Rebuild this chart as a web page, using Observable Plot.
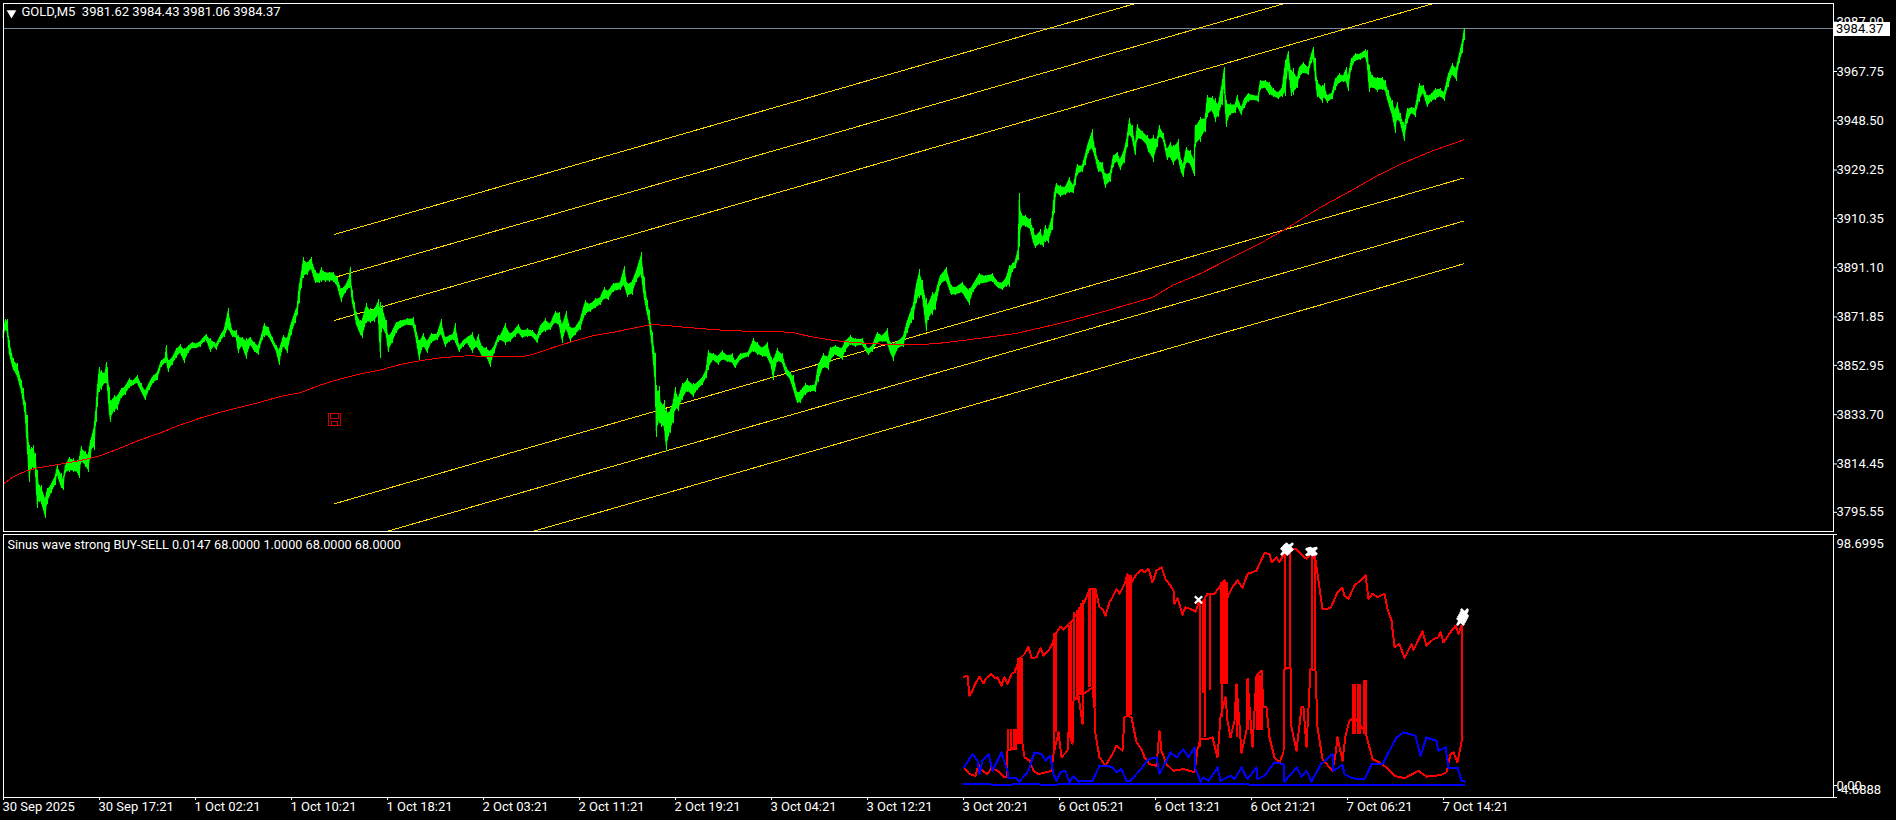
<!DOCTYPE html>
<html><head><meta charset="utf-8">
<script src="https://cdn.jsdelivr.net/npm/d3@7"></script>
<script src="https://cdn.jsdelivr.net/npm/@observablehq/plot@0.6"></script>
<style>html,body{margin:0;padding:0;background:#000;overflow:hidden}svg{display:block}</style>
</head><body><div id="chart"></div>
<script>
// price samples: [bar, high, low]
const priceSep30 = [[0,3866.6,3863.3],[2,3870.7,3866.6],[4,3870.9,3865.3],[6,3862.7,3856.8],[10,3855.5,3850.9],[14,3853.5,3848.1],[18,3847,3842.5],[20,3843.8,3837.9],[22,3838.6,3832.7],[24,3833.4,3819.7],[26,3821.6,3807.3],[28,3821,3811.9],[30,3821.6,3811.9],[32,3818.4,3811.9],[34,3811.9,3796.9],[36,3806,3799.5],[38,3806,3798.8],[42,3801.5,3793],[44,3804.7,3798.8],[48,3806.7,3802.8],[52,3809.9,3806],[54,3813.8,3809.9],[58,3810.6,3804.7],[60,3808.6,3804.1],[62,3813.8,3810.6],[66,3817.1,3811.2],[70,3816.4,3811.2],[74,3815.8,3810.6],[76,3817.1,3808.6],[78,3821.3,3815.1],[82,3819.4,3813.2],[85,3818.4,3811.2],[87,3823.6,3816.4],[89,3826.2,3820.3],[91,3830.1,3819.7],[93,3837.9,3830.8],[94,3844.4,3836.6],[96,3852.3,3842.5],[98,3851,3843.1],[102,3850.3,3845.7],[103,3854.2,3845.7],[104,3852.3,3844.4],[106,3844.4,3834],[107,3839.2,3830.8],[111,3841.2,3834.7],[114,3841.2,3835.3],[118,3843.8,3839.9],[122,3845,3841.2],[126,3847.7,3843.8],[130,3847,3845],[134,3849,3845.7],[138,3845.7,3842.5],[142,3843.1,3839.2],[146,3846.4,3843.1],[150,3849,3845.7],[154,3850.3,3847],[158,3854.8,3852.3],[162,3856.2,3853.5],[163,3860.6,3854.2],[165,3854.8,3850.3],[169,3856.2,3852.9],[173,3859.4,3855.5],[177,3861,3857.5],[181,3859.4,3853.8],[185,3860.7,3857.5],[189,3862,3859.4],[193,3861.4,3859.4],[197,3862.4,3860.1],[201,3864.2,3862],[203,3865,3862.7],[207,3863.3,3858.1],[211,3862,3860.1],[213,3861.4,3858.8],[217,3864.6,3862],[221,3867.2,3864],[225,3875,3866.6],[229,3866.6,3864],[233,3866.6,3863.3],[235,3864.6,3857.5],[239,3864,3860.1],[243,3863.3,3855.1],[247,3864,3860.7],[251,3862,3858.1],[255,3860.7,3856.8],[259,3865.9,3862.7],[261,3869.4,3864],[265,3867.9,3864],[269,3864,3861.4],[273,3860.7,3858.1],[276,3859.4,3852.9],[280,3864.6,3860.1],[284,3864,3857.5]];
const priceOct1 = [[288,3869.8,3864.6],[292,3874.4,3869.2],[294,3876.3,3872.4],[296,3884.8,3877],[298,3888.7,3882.8],[300,3895,3886.8],[304,3893.3,3888.1],[308,3895,3890],[312,3890,3884.8],[316,3888.7,3884.8],[318,3891,3885.5],[322,3889.4,3885.5],[326,3889.4,3885.5],[330,3889.4,3885.5],[334,3887.4,3883.5],[338,3882.8,3877.6],[342,3884.2,3880.9],[346,3887.4,3882.8],[347,3891,3884.8],[349,3882.2,3877],[351,3877.6,3873.7],[353,3873.7,3868.5],[357,3870.5,3864.6],[359,3871.1,3863.3],[363,3877,3869.2],[367,3875,3869.2],[371,3875,3869.8],[375,3878.5,3871.8],[377,3877.6,3855.5],[379,3876.3,3867.2],[383,3870.5,3864],[385,3864.6,3858.1],[389,3866.6,3861.4],[393,3869.8,3865.3],[397,3870.5,3867.2],[404,3871.1,3868.5],[410,3871.5,3867.9],[412,3868.5,3864.6],[416,3862.7,3854.8],[420,3865.3,3860.1],[424,3862.7,3857.5],[428,3865.3,3861.4],[434,3865.3,3862.7],[438,3870.7,3864.6],[442,3864,3860.1],[446,3864.6,3862],[450,3865.3,3862.7],[452,3869.2,3861.4],[456,3860.7,3858.1],[460,3862.7,3860.1],[464,3864,3861.4],[469,3865.9,3857.5],[473,3862,3860.1],[475,3865,3858.8],[479,3860.3,3855.9],[483,3860,3856.1],[487,3858.8,3852.2],[491,3860.7,3857.5],[495,3864.6,3862]];
const priceOct2 = [[497,3864.6,3862.7],[502,3869.4,3860.7],[507,3865.3,3862],[512,3867.2,3864],[515,3868.9,3865.3],[519,3866.6,3863.3],[524,3867.2,3864],[529,3866.6,3864],[534,3864.6,3861.4],[537,3868.5,3864.6],[542,3871.1,3865.9],[547,3869.2,3866.6],[552,3874,3869.2],[556,3873.7,3867.9],[559,3869.2,3861.6],[563,3874.1,3866.6],[567,3867.9,3862],[572,3867.9,3864.6],[577,3871.1,3866.6],[582,3878.3,3872.4],[587,3877,3873.7],[592,3878.9,3875],[597,3879.6,3876.3],[601,3883.2,3878.5],[605,3882.2,3878.3],[610,3885,3881.5],[617,3885.5,3882.2],[621,3891.6,3883.5],[624,3884.8,3879.6],[629,3886.1,3880.2],[633,3890,3885.5],[638,3896.9,3887.4],[641,3887.4,3878.3],[644,3878.3,3872.4],[646,3874.4,3869.2],[649,3865.9,3858.8],[652,3857.5,3844.4],[653,3845,3824.9],[656,3844.7,3830.1],[658,3838,3828.8],[661,3839.2,3827.5],[663,3835.9,3819.4],[667,3835.9,3826.5],[670,3839.2,3830.1],[672,3844.4,3835.3],[675,3840.5,3835],[679,3845.7,3839.2],[684,3847.7,3842.5],[690,3845.7,3840.3],[694,3846.4,3843.1],[699,3848.3,3845],[703,3851.6,3847.7],[705,3858.8,3851],[710,3857.5,3854.8],[715,3856.8,3852.9],[719,3858.8,3854.8],[724,3856.8,3854.2],[729,3857.5,3853.5],[732,3854.8,3851.6],[737,3857.5,3854.8],[745,3858.1,3856.2],[750,3863.3,3858.1],[754,3862,3856.8],[759,3860,3856.2],[764,3862,3855.5],[768,3856.2,3852.2],[770,3855.5,3847],[774,3859.4,3854.2],[779,3857.5,3853.5],[783,3852.2,3849],[787,3850.3,3847],[790,3849,3843.1],[794,3842.5,3837.9],[797,3843.1,3837.9],[802,3845.7,3841.2],[807,3845,3842.5],[812,3845.7,3842.5],[815,3853.5,3846.4],[820,3857.5,3851.6],[825,3856.8,3850.9],[827,3860,3854.2],[832,3860.7,3856.8],[839,3860,3854.8],[842,3862.7,3858.1],[847,3864.6,3860.7],[852,3863.3,3860],[859,3863.3,3860.7],[862,3861.4,3858.8],[865,3859.4,3856.8],[869,3860.7,3858.1],[874,3865.9,3861.4],[879,3864.6,3862],[884,3867.2,3861.4],[887,3862,3857.5],[890,3861.4,3854.6],[895,3862.7,3859.4],[900,3864.6,3860],[904,3870.5,3865.3],[908,3875,3869.2],[910,3877,3870.5],[913,3884.8,3877],[916,3890.3,3878.9],[919,3886.1,3879.6],[923,3879,3866],[925,3877,3870.5],[929,3881.5,3872.4],[932,3881.5,3874.4],[937,3888.1,3884.2],[943,3891.3,3885.5],[948,3884.2,3880.2],[952,3883.5,3880.2],[959,3885.5,3880.9],[966,3882.8,3876.3],[970,3884.8,3881.5],[976,3889,3884.2],[982,3888,3884.8],[989,3888.7,3885.5],[995,3885.5,3882.8]];
const priceOct6 = [[999,3885.4,3882.2],[1003,3887.4,3883.5],[1006,3892,3883.5],[1009,3892.6,3889.4],[1012,3893.9,3890.6],[1015,3899,3893.9],[1016,3919.9,3899],[1018,3912.1,3906.9],[1022,3911.5,3906.9],[1027,3910.2,3905.6],[1030,3906.3,3900.4],[1032,3903.7,3898.5],[1037,3905.9,3899.8],[1040,3903,3899.1],[1042,3907.6,3901],[1045,3906.3,3900.7],[1049,3911.5,3905.6],[1051,3920.6,3912.1],[1053,3924.1,3919.9],[1057,3923.2,3918.6],[1062,3922.6,3919.3],[1066,3926.5,3919.9],[1070,3923.2,3919.9],[1072,3927.1,3923.2],[1074,3931.4,3927.1],[1079,3931,3928.4],[1082,3935.6,3931],[1085,3940.1,3935.6],[1089,3944.9,3936.9],[1092,3937.5,3933.6],[1095,3933,3928.4],[1099,3932.3,3927.8],[1102,3927.8,3922.2],[1107,3928.4,3924.5],[1110,3934.9,3930.4],[1114,3936.2,3932.3],[1117,3933.6,3929.1],[1121,3937.5,3931.7],[1124,3942.8,3938.2],[1126,3949.2,3942.8],[1129,3946.6,3940.8],[1132,3939.5,3934.9],[1134,3947,3940.8],[1139,3944.4,3940.8],[1144,3942.8,3938.2],[1145,3941.4,3936.2],[1150,3942.8,3932.3],[1154,3941.4,3938.2],[1156,3946.6,3942.1],[1160,3943.4,3940.8],[1164,3937.5,3933],[1167,3940.1,3933.6],[1170,3938.8,3931],[1175,3941,3933],[1178,3933,3927.8],[1180,3931.7,3926.2],[1183,3938.2,3931.7],[1187,3936.9,3931],[1191,3933.6,3926.7],[1192,3946.6,3938.2],[1197,3949.9,3940.2],[1202,3949.9,3944.1],[1204,3958.4,3949.9],[1209,3958,3951.9],[1212,3957.1,3947.9],[1215,3955.1,3949.9],[1219,3964.2,3954.5],[1221,3969.4,3961.6],[1223,3956.4,3945.7],[1227,3955.1,3950.6],[1232,3955.1,3951.2],[1234,3958.4,3953.8],[1238,3953.8,3950.6],[1241,3957.1,3953.2],[1245,3959.3,3955.8],[1250,3958.4,3956.4],[1255,3958.4,3955.8],[1257,3964.2,3960.3],[1262,3964.2,3961],[1266,3963.6,3958.4],[1270,3961,3957.7],[1275,3959.7,3956.8],[1279,3961.6,3957.7],[1282,3972,3958],[1285,3975.7,3968.8],[1288,3968.1,3958],[1290,3968.8,3958.4],[1294,3965.5,3961],[1296,3969.4,3964.9],[1300,3971.4,3966.8],[1305,3969.4,3966.2],[1308,3974.6,3970.7],[1310,3977,3972.3],[1312,3972.7,3964.9]];
const priceOct7 = [[1314,3964.2,3957.7],[1319,3962.3,3955.4],[1321,3962.9,3957.1],[1324,3958.4,3955.4],[1329,3959.7,3956.7],[1332,3964.9,3960.3],[1336,3966.8,3963],[1340,3966.2,3963.6],[1343,3969.2,3963],[1345,3966.2,3960.1],[1348,3972.7,3968.2],[1352,3974.6,3971.8],[1357,3974.6,3972],[1362,3976.2,3973.1],[1364,3975.9,3970.1],[1366,3970.1,3959.7],[1369,3966.2,3961],[1374,3965.5,3959.7],[1379,3965.5,3960.3],[1382,3964.2,3959.7],[1385,3960.3,3955.1],[1389,3956.4,3949.9],[1392,3953.2,3943.7],[1394,3955.8,3948.6],[1397,3951.2,3947.3],[1400,3948,3942.7],[1401,3946,3940.5],[1404,3953.2,3947.3],[1408,3953.8,3951.2],[1412,3953.6,3949.9],[1416,3962.9,3955.8],[1420,3962.3,3959],[1424,3958.4,3953.6],[1428,3959,3955.8],[1432,3961,3956.4],[1437,3961,3957.7],[1441,3959.7,3956.2],[1445,3966.8,3961.6],[1449,3970.7,3966.2],[1453,3969.4,3964],[1456,3974.6,3970.7],[1459,3979.6,3974.6],[1461,3984.4,3980]];
const maLine = [[0,3806.7],[10,3809.5],[22,3811.6],[34,3812.9],[54,3814.2],[77,3815.8],[97,3817.7],[117,3820.7],[137,3823.9],[157,3826.6],[174,3829.3],[197,3832.4],[217,3834.7],[237,3836.6],[257,3838.6],[277,3840.8],[297,3842.3],[317,3845.3],[337,3847.7],[357,3849.6],[377,3851.2],[397,3853.3],[417,3854.8],[437,3855.9],[464,3856.7],[497,3856.3],[517,3856.3],[530,3857.3],[550,3860],[570,3862.4],[590,3864.6],[610,3865.9],[630,3867.5],[647,3868.8],[659,3868.7],[677,3868],[704,3867.1],[730,3866.4],[767,3866.3],[789,3865.8],[807,3864.2],[830,3862.7],[850,3861.9],[870,3861.4],[897,3861],[914,3861],[934,3861.5],[964,3862.9],[997,3864.6],[1012,3865.4],[1056,3869.3],[1097,3873.6],[1149,3879.5],[1169,3884.2],[1197,3888.8],[1261,3901.5],[1285,3906.9],[1317,3914.7],[1348,3921.3],[1374,3927.1],[1398,3931.7],[1430,3936.9],[1460,3941]];
// parallel channel lines: each starts at channelBars[0] and ends at channelBars[1]
const channelBars = [331,1460];
const channelStart = [3904.1,3887.3,3870.5,3798.9,3782.2,3765.8];
const channelEnd = [4031.3,4014.5,3997.7,3926.1,3909.3,3892.6];
const priceTicks = [3987,3967.75,3948.5,3929.25,3910.35,3891.1,3871.85,3852.95,3833.7,3814.45,3795.55];
const lastPrice = 3984.37;
const objectMarker = [[331,3831.8]];
const mainTitle = "GOLD,M5\u00a0\u00a03981.62 3984.43 3981.06 3984.37";
const subTitle = "Sinus wave strong BUY-SELL 0.0147 68.0000 1.0000 68.0000 68.0000";
const timeBars = [0,96,192,288,384,480,576,672,768,864,960,1056,1152,1248,1344,1440];
const timeLabels = ["30 Sep 2025","30 Sep 17:21","1 Oct 02:21","1 Oct 10:21","1 Oct 18:21","2 Oct 03:21","2 Oct 11:21","2 Oct 19:21","3 Oct 04:21","3 Oct 12:21","3 Oct 20:21","6 Oct 05:21","6 Oct 13:21","6 Oct 21:21","7 Oct 06:21","7 Oct 14:21"];
// indicator
const subMax = 98.6995, subZero = 0, subMin = -4.6888;
const redUpper = [[960.5,42.8],[964,43.2],[966,35.3],[969,37.3],[972,40.2],[976,42.8],[980,40.2],[983,42.3],[988,43.9],[991,42.3],[994,42.5],[998,39.3],[1001,42.8],[1004,39.9],[1008,43.9],[1011,44.5],[1016,49.8],[1021,51.7],[1025,54.6],[1028,50.2],[1033,50.4],[1037,54.1],[1040,51.1],[1045,53],[1048,55],[1052,59.6],[1057,62.5],[1060,61.2],[1065,63.5],[1069,64.9],[1074,68.1],[1079,70.8],[1083,74],[1086,77.3],[1092,77.3],[1096,70.1],[1099,69.4],[1102,66.8],[1106,72.1],[1109,74],[1113,77.3],[1116,75.4],[1121,79.3],[1124,83],[1128,79.9],[1133,83.2],[1138,84.8],[1141,83.9],[1145,85.2],[1149,79.9],[1153,84.5],[1158,85.8],[1162,81.2],[1167,78.6],[1170,76.7],[1171,71.4],[1174,73.8],[1179,67.2],[1182,70.1],[1187,69.4],[1192,68.4],[1196,72.7],[1199,72.1],[1204,75.4],[1211,75.4],[1217,78.6],[1221,80.6],[1224,74],[1229,78],[1234,80.6],[1239,77.7],[1244,83.2],[1253,84.5],[1261,91.4],[1266,91.1],[1268,87.8],[1273,89.8],[1276,87.8],[1280,90.8],[1285,93.1],[1292,93.1],[1297,91.1],[1303,89.1],[1308,91.7],[1312,88.5],[1315,80.6],[1319,69.4],[1327,69.7],[1334,76],[1339,77.7],[1341,74.7],[1345,73.4],[1351,78.6],[1356,80.3],[1362,82.6],[1365,73.4],[1369,75.4],[1374,74],[1381,75.4],[1384,69.4],[1388,64.9],[1391,54.4],[1396,55.7],[1401,50.2],[1408,55.7],[1410,53.3],[1419,60.6],[1423,55],[1430,57.6],[1435,58.3],[1437,60.3],[1440,56.3],[1447,60.3],[1452,62.9],[1455,59.6],[1458,62.9]];
const redLower = [[960.5,7.1],[966,4.5],[972,3.8],[975,8.4],[979,5.8],[984,4.5],[988,7.1],[994,5.8],[1001,3.2],[1003,3.2],[1004,13.7],[1008,14.3],[1013,16.3],[1016,24.4],[1019,16.3],[1021,11.1],[1026,9.8],[1030,5.8],[1035,4.5],[1042,5.2],[1048,5.8],[1050,12.4],[1055,20.9],[1058,11.1],[1064,13.7],[1065,20.9],[1069,16.3],[1070,33.4],[1075,35.3],[1079,24.2],[1080,36],[1089,38.6],[1091,30.7],[1092,20.2],[1096,11.1],[1102,7.8],[1109,12.4],[1113,15.7],[1119,13.7],[1121,26.8],[1124,27.5],[1128,26.8],[1133,17],[1138,14.3],[1141,11.1],[1146,8.4],[1153,7.8],[1156,21.6],[1158,13.7],[1163,8.4],[1170,5.8],[1180,6.5],[1191,5.2],[1194,14.3],[1197,18.3],[1204,18.3],[1209,18.9],[1214,11.1],[1217,26.8],[1222,34.7],[1224,25.5],[1227,18.9],[1231,25.5],[1233,39.9],[1238,13],[1243,21.6],[1244,41.9],[1249,15],[1253,43.2],[1258,45.2],[1260,30.7],[1263,30.7],[1266,18.9],[1271,11.1],[1276,9.1],[1280,13],[1281,45.8],[1287,46.5],[1288,22.9],[1293,13.7],[1298,30.7],[1300,30.7],[1303,15],[1307,45.8],[1312,45.2],[1314,22.9],[1319,10.4],[1329,5.8],[1332,12.4],[1334,18.9],[1339,9.8],[1342,19.6],[1346,25.5],[1351,26.8],[1362,20.9],[1366,15],[1369,10.4],[1376,9.1],[1383,7.1],[1391,3.8],[1401,2.9],[1415,5.8],[1423,3.5],[1437,4.1],[1443,5.2],[1447,12.4],[1450,13],[1454,9.1],[1458,17]];
// red flips: [bar, top, bottom]
const redFlips = [[1004,22.2,13.7],[1007,22.2,13.7],[1010,22.2,13.7],[1012,22.2,13.7],[1014,49.8,16.3],[1015,49.8,16.3],[1016,49.8,16.3],[1017,49.8,16.3],[1018,49.8,16.3],[1050,59.6,12.4],[1052,59.6,20.9],[1065,62.9,20.9],[1067,64.2,17.6],[1070,68.1,33.4],[1073,68.8,33.4],[1075,70.1,35.3],[1077,71.4,35.3],[1079,72.7,24.2],[1085,76.7,38.6],[1086,77.3,38.6],[1089,77.3,38.6],[1091,77.3,30.7],[1123,82.6,27.5],[1124,82.6,27.5],[1125,82.6,27.5],[1126,82.6,27.5],[1127,82.6,27.5],[1196,71.4,15],[1199,72.1,36],[1201,73.4,18.9],[1206,75.4,37.3],[1217,79.9,39.9],[1218,79.9,26.8],[1219,79.9,39.9],[1220,79.9,39.9],[1221,79.9,39.9],[1222,79.9,39.9],[1223,79.9,39.9],[1233,39.9,18.9],[1244,41.9,21.6],[1253,43.2,21.6],[1255,43.2,21.6],[1256,43.2,21.6],[1258,45.2,21.6],[1281,91.1,45.8],[1286,91.7,46.5],[1308,91.4,45.8],[1311,91.4,45.2],[1349,39.9,20.2],[1351,39.9,20.2],[1354,39.9,20.2],[1356,39.9,20.2],[1360,41.2,20.2],[1362,41.5,20.2],[1458,62.9,17]];
const blueWave = [[960.5,7.1],[969,12.4],[974,9.8],[976,4.5],[979,9.8],[985,12.4],[989,5.8],[998,13],[1004,5.8],[1004,3.2],[1013,2.9],[1016,1.6],[1025,5.8],[1031,13],[1038,12.4],[1042,9.8],[1047,11.7],[1049,6.5],[1050,4.5],[1053,1.9],[1057,5.2],[1062,5.8],[1066,1.2],[1070,3.8],[1075,1.6],[1089,1.9],[1096,7.8],[1104,7.8],[1109,7.1],[1113,5.2],[1118,6.5],[1123,1.9],[1126,1.6],[1136,5.8],[1145,10.4],[1153,11.1],[1156,4.5],[1167,13],[1173,11.1],[1180,14.3],[1185,11.1],[1191,15],[1192,6.5],[1197,1.6],[1200,3.2],[1205,1.9],[1214,7.1],[1217,1.9],[1227,3.8],[1231,2.5],[1238,7.1],[1244,2.5],[1253,7.1],[1254,2.5],[1261,3.8],[1271,9.1],[1280,8.4],[1281,1.6],[1293,7.1],[1298,3.5],[1303,5.8],[1308,1.6],[1317,8.2],[1329,12.4],[1330,5.8],[1339,8.2],[1341,4.5],[1347,3.2],[1354,2.5],[1361,2.5],[1368,8.4],[1379,8.4],[1393,18.9],[1400,20.9],[1412,19.6],[1417,11.7],[1423,18.9],[1433,17.6],[1435,13.7],[1442,15],[1445,7.1],[1454,7.1],[1458,1.9],[1461,1.6]];
const blueBase = [[960.5,0.6],[1004,0.3],[1016,0.6],[1050,0.3],[1062,0.6],[1096,0.5],[1461,0.3]];
const signalCrosses = [[1195,73],[1281,92],[1282,92.4],[1283,92.9],[1284,93.3],[1285,93.6],[1286,93.9],[1306,91.8],[1307,91.9],[1308,92],[1309,92.1],[1310,92.2],[1457,64.5],[1458,65.3],[1459,66],[1460,66.8],[1461,67.5],[1461,68]];

const FONT = 'Roboto, "Noto Sans", sans-serif';
const baseStyle = {background:"#000",color:"#fff",fontFamily:FONT,fontSize:"13px"};
const price = [...priceSep30,...priceOct1,...priceOct2,...priceOct6,...priceOct7].map(([bar,high,low])=>({bar,high,low}));
const channels = channelStart.flatMap((s,i)=>[{line:i,bar:channelBars[0],p:s},{line:i,bar:channelBars[1],p:channelEnd[i]}]);
const floppy = {draw(c,size){const r=Math.sqrt(size/Math.PI);
  c.moveTo(-r,-r);c.lineTo(r,-r);c.lineTo(r,r);c.lineTo(-r,r);c.closePath();
  c.moveTo(-r*.6,-r);c.lineTo(-r*.6,-r*.1);c.lineTo(r*.6,-r*.1);c.lineTo(r*.6,-r);
  c.moveTo(-r*.5,r);c.lineTo(-r*.5,r*.35);c.lineTo(r*.5,r*.35);c.lineTo(r*.5,r);}};
const xDomain=[0,1830];
const crisp={shapeRendering:"crispEdges"};

const mainPanel = Plot.plot({
  width:1896,height:532,marginTop:3,marginBottom:1,marginLeft:3,marginRight:63,
  style:baseStyle,
  x:{domain:xDomain,axis:null},
  y:{domain:[3788.06,3994.31],axis:null},
  marks:[
    Plot.ruleY([lastPrice],{stroke:"#778899",strokeWidth:1,...crisp}),
    Plot.line(channels,{x:"bar",y:"p",z:"line",stroke:"#ffd700",strokeWidth:1,clip:true,...crisp}),
    Plot.areaY(price,{x:"bar",y1:d=>d.low+(d.high-d.low)*.12,y2:d=>d.high-(d.high-d.low)*.12,fill:"#00ff00",stroke:"#00ff00",strokeWidth:0.6,...crisp}),
    Plot.ruleX(price,{x:"bar",y1:"low",y2:"high",stroke:"#00ff00",strokeWidth:1.6,...crisp}),
    Plot.line(maLine,{x:d=>d[0],y:d=>d[1],stroke:"#ff0000",strokeWidth:1,...crisp}),
    Plot.dot(objectMarker,{x:d=>d[0],y:d=>d[1],symbol:floppy,r:6,stroke:"#c80000",strokeWidth:1,fill:"none",...crisp}),
    Plot.axisY({anchor:"right",ticks:priceTicks,tickFormat:d=>d.toFixed(2),tickSize:3,tickPadding:0,label:null,stroke:"#fff",fill:"#fff"}),
    Plot.ruleY([lastPrice],{x1:1830.5,x2:1887,stroke:"#fff",strokeWidth:14}),
    Plot.text([lastPrice],{x:1832.5,y:d=>d,text:d=>d.toFixed(2),textAnchor:"start",fill:"#000"}),
    Plot.dot([mainTitle],{frameAnchor:"top-left",dx:8,dy:9.5,symbol:"triangle",rotate:180,r:3.6,fill:"#fff"}),
    Plot.text([mainTitle],{frameAnchor:"top-left",dx:18,dy:3.5,textAnchor:"start",lineAnchor:"top",fill:"#fff"}),
    Plot.frame({stroke:"#fff",strokeWidth:1,...crisp})
  ]
});

const subPanel = Plot.plot({
  width:1896,height:288,marginTop:2,marginBottom:23,marginLeft:3,marginRight:63,
  style:baseStyle,
  x:{domain:xDomain,axis:null},
  y:{domain:[subMin,subMax],axis:null},
  marks:[
    Plot.ruleX(redFlips,{x:d=>d[0],y1:d=>d[1],y2:d=>d[2],stroke:"#ff0000",strokeWidth:2,...crisp}),
    Plot.line(redLower,{x:d=>d[0],y:d=>d[1],stroke:"#ff0000",strokeWidth:2,...crisp}),
    Plot.line(redUpper,{x:d=>d[0],y:d=>d[1],stroke:"#ff0000",strokeWidth:2,...crisp}),
    Plot.line(blueWave,{x:d=>d[0],y:d=>d[1],stroke:"#0000ff",strokeWidth:2,...crisp}),
    Plot.line(blueBase,{x:d=>d[0],y:d=>d[1],stroke:"#0000ff",strokeWidth:2,...crisp}),
    Plot.dot(signalCrosses,{x:d=>d[0],y:d=>d[1],symbol:"times",r:3.4,stroke:"#fff",strokeWidth:2.4}),
    Plot.axisY({anchor:"right",ticks:[subMax,subZero,subMin],tickFormat:()=>"",tickSize:3,tickPadding:0,label:null,stroke:"#fff"}),
    Plot.text([subMax],{frameAnchor:"right",y:d=>d,dx:3,dy:9,text:d=>d.toFixed(4),textAnchor:"start",fill:"#fff"}),
    Plot.text([subZero],{frameAnchor:"right",y:d=>d,dx:3,text:d=>d.toFixed(2),textAnchor:"start",fill:"#fff"}),
    Plot.text([subMin],{frameAnchor:"right",y:d=>d,dx:4,dy:-8,text:d=>d.toFixed(4),textAnchor:"start",fill:"#fff"}),
    Plot.text([subTitle],{frameAnchor:"top-left",dx:4,dy:5,textAnchor:"start",lineAnchor:"top",fill:"#fff",fontSize:12.7}),
    Plot.axisX({ticks:timeBars,tickFormat:()=>"",tickSize:3,label:null,stroke:"#fff"}),
    Plot.axisX({ticks:timeBars,tickFormat:d=>timeLabels[timeBars.indexOf(d)],textAnchor:"start",tickSize:0,tickPadding:4,dx:-1,label:null,fill:"#fff"}),
    Plot.frame({stroke:"#fff",strokeWidth:1,...crisp})
  ]
});
document.getElementById("chart").append(mainPanel,subPanel);
</script></body></html>
